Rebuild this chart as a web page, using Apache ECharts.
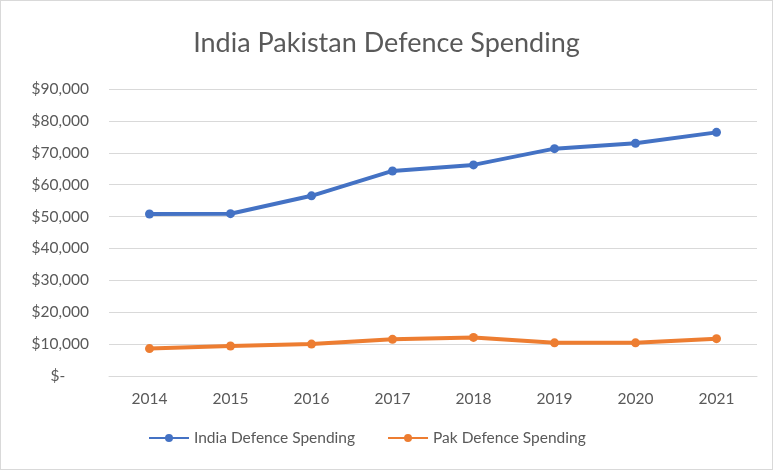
<!DOCTYPE html>
<html>
<head>
<meta charset="utf-8">
<script src="https://cdn.jsdelivr.net/npm/echarts@6/dist/echarts.min.js"></script>
<style>
html,body{margin:0;padding:0;background:#fff;}
#chart{width:773px;height:470px;box-sizing:border-box;border:1px solid #d9d9d9;}
</style>
</head>
<body>
<div id="chart"></div>
<script>
var years=['2014','2015','2016','2017','2018','2019','2020','2021'];
var indiaSpend=[50800,50900,56500,64300,66200,71300,73000,76400];
var pakSpend=[8600,9400,10000,11500,12100,10400,10400,11700];

function money(v){
    if(v===0){return '$-      ';}
    return '$'+v.toLocaleString('en-US');
}

var chart=echarts.init(document.getElementById('chart'));
chart.setOption({
    animation:false,
    title:{
        text:'India Pakistan Defence Spending',
        left:'center',
        top:24,
        textStyle:{fontFamily:'Lato',fontSize:27,fontWeight:'normal',color:'#595959'}
    },
    legend:{
        left:142,
        bottom:18,
        itemGap:32,
        itemWidth:40,
        itemHeight:10,
        textStyle:{fontFamily:'Lato',fontSize:15.5,color:'#595959'},
        data:['India Defence Spending','Pak Defence Spending']
    },
    grid:{left:108,right:15,top:88,bottom:93},
    xAxis:{
        type:'category',
        data:years,
        boundaryGap:true,
        axisLine:{lineStyle:{color:'#d9d9d9'}},
        axisTick:{show:false},
        axisLabel:{fontFamily:'Lato',fontSize:15.5,color:'#595959',margin:15}
    },
    yAxis:{
        type:'value',
        min:0,
        max:90000,
        interval:10000,
        axisLine:{show:false},
        axisTick:{show:false},
        splitLine:{lineStyle:{color:'#d9d9d9'}},
        axisLabel:{fontFamily:'Lato',fontSize:15.5,color:'#595959',margin:20,formatter:money}
    },
    series:[
        {
            name:'India Defence Spending',
            type:'line',
            data:indiaSpend,
            color:'#4472c4',
            symbol:'circle',
            symbolSize:9,
            lineStyle:{width:4}
        },
        {
            name:'Pak Defence Spending',
            type:'line',
            data:pakSpend,
            color:'#ed7d31',
            symbol:'circle',
            symbolSize:9,
            lineStyle:{width:4}
        }
    ]
});
</script>
</body>
</html>
